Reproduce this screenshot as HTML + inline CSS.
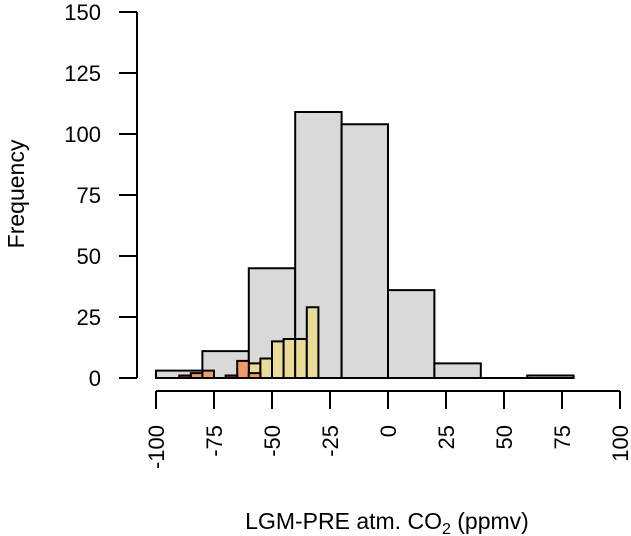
<!DOCTYPE html>
<html><head><meta charset="utf-8"><style>
body{margin:0;background:#fff}
svg{display:block;font-family:"Liberation Sans",sans-serif}
</style></head><body>
<svg id="chart" width="631" height="536" viewBox="0 0 631 536">
<g id="bars"></g>
<g id="axes"></g>
<text transform="translate(24,194) rotate(-90)" text-anchor="middle" font-size="23">Frequency</text>
<text x="387" y="529" text-anchor="middle" font-size="23">LGM-PRE atm. CO<tspan font-size="16" dy="5">2</tspan><tspan dy="-5">  (ppmv)</tspan></text>
</svg>
<script>
const grayBins = [-100,-80,-60,-40,-20,0,20,40,60];
const grayCounts = [3,11,45,109,104,36,6,0,1];
const yellowBins = [-60,-55,-50,-45,-40,-35];
const yellowCounts = [6,8,15,16,16,29];
const orangeBins = [-85,-80,-65,-60];
const orangeCounts = [2,3,7,2];
const redBins = [-90,-70];
const redCounts = [1,1];
const xTicks = [-100,-75,-50,-25,0,25,50,75,100];
const yTicks = [0,25,50,75,100,125,150];

const NS="http://www.w3.org/2000/svg";
const xs=v=>156+(v+100)*2.32;
const ys=v=>378-v*2.44;
const bars=document.getElementById('bars'), axes=document.getElementById('axes');
function mk(p,tag,attrs){const e=document.createElementNS(NS,tag);for(const k in attrs)e.setAttribute(k,attrs[k]);p.appendChild(e);return e;}
function series(bins,counts,w,fill,name){
  bins.forEach((b,i)=>{
    const x0=xs(b),x1=xs(b+w),y0=ys(0),y1=ys(counts[i]);
    const r=mk(bars,'path',{d:`M${x0},${y0}L${x0},${y1}L${x1},${y1}L${x1},${y0}Z`,fill:fill,stroke:'#000','stroke-width':2});
    
    
  });
}
series(grayBins,grayCounts,20,'#d9d9d9','gray');
series(yellowBins,yellowCounts,5,'#e8dc98','yellow');
series(orangeBins,orangeCounts,5,'#ef9a6a','orange');
series(redBins,redCounts,5,'#c0392b','red');
// x axis
mk(axes,'line',{x1:xs(-100),x2:xs(100),y1:391,y2:391,stroke:'#000','stroke-width':2});
xTicks.forEach(t=>{
  mk(axes,'line',{x1:xs(t),x2:xs(t),y1:391,y2:409,stroke:'#000','stroke-width':2});
  const tx=mk(axes,'text',{transform:`translate(${xs(t)+8},425) rotate(-90)`,'text-anchor':'end','font-size':22});
  tx.textContent=t;
  
  
});
// y axis
mk(axes,'line',{x1:137,x2:137,y1:ys(0),y2:ys(150),stroke:'#000','stroke-width':2});
yTicks.forEach(t=>{
  mk(axes,'line',{x1:119,x2:137,y1:ys(t),y2:ys(t),stroke:'#000','stroke-width':2});
  const tx=mk(axes,'text',{x:101,y:ys(t)+8,'text-anchor':'end','font-size':22});
  tx.textContent=t;
  
  
});
</script>
</body></html>
